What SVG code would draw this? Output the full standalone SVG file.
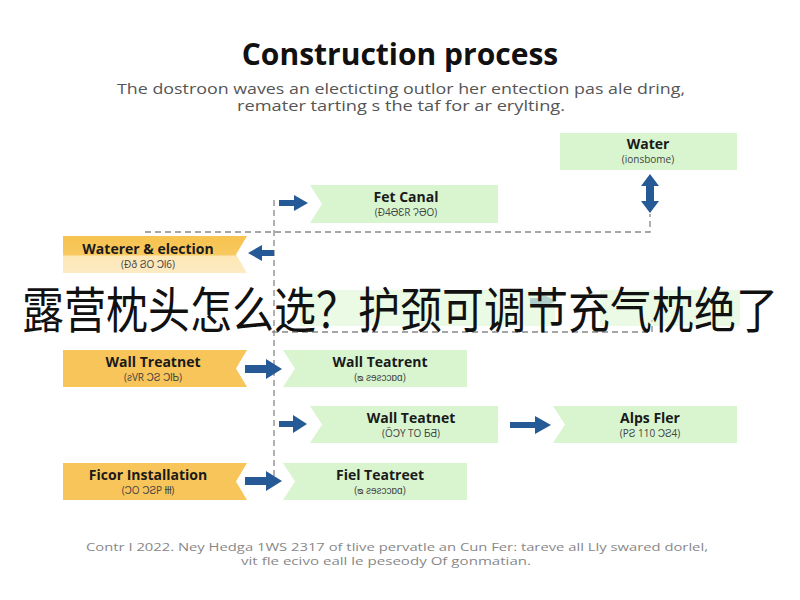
<svg xmlns="http://www.w3.org/2000/svg" width="800" height="600" viewBox="0 0 800 600">
<defs>
<style>
.t{font-family:"Open Sans","Liberation Sans",sans-serif}
.lab{font-family:"Open Sans","Liberation Sans",sans-serif;font-weight:700;font-size:14px;fill:#1a1a1a;text-anchor:middle}
.sub{font-family:"Open Sans","Liberation Sans",sans-serif;font-size:10px;fill:#444;text-anchor:middle}
.green{fill:#d8f5cf}
.orange{fill:#f8c55a}
.dash{fill:none;stroke:#888;stroke-width:1.3;stroke-dasharray:6,4}
.arr{fill:#265a97}
</style>
<linearGradient id="og" x1="0" y1="0" x2="0" y2="1">
<stop offset="0" stop-color="#f7c24f"/>
<stop offset="0.5" stop-color="#f8c95f"/>
<stop offset="0.55" stop-color="#fde7b6"/>
<stop offset="1" stop-color="#fdebc4"/>
</linearGradient>
</defs>
<rect width="800" height="600" fill="#fff"/>
<text class="t" x="400" y="65" font-size="30" font-weight="700" text-anchor="middle" fill="#111">Construction process</text>
<text class="t" x="401" y="94" font-size="14.5" text-anchor="middle" fill="#555" textLength="568" lengthAdjust="spacingAndGlyphs">The dostroon waves an electicting outlor her entection pas ale dring,</text>
<text class="t" x="401" y="111" font-size="14.5" text-anchor="middle" fill="#555" textLength="328" lengthAdjust="spacingAndGlyphs">remater tarting s the taf for ar erylting.</text>

<g id="connectors">
<path class="dash" d="M274 200 V480"/>
<path class="dash" d="M145 232 H650 V214"/>
<path class="dash" d="M272 332 H652 V320"/>
<path class="arr" d="M279 200 H294 V195 L308 203 L294 211 V206 H279 Z"/>
<path class="arr" d="M274 250 H262 V245 L248 253 L262 261 V256 H274 Z"/>
<path class="arr" d="M646 186 H641 L650 174 L659 186 H654 V201 H659 L650 213 L641 201 H646 Z"/>
<path class="arr" d="M245 365 H266 V359 L282 369 L266 379 V373 H245 Z"/>
<path class="arr" d="M279 421 H293 V415 L307 424 L293 433 V427 H279 Z"/>
<path class="arr" d="M510 422 H535 V416 L551 425 L535 434 V428 H510 Z"/>
<path class="arr" d="M245 477 H266 V471 L282 481 L266 491 V485 H245 Z"/>
<path class="arr" d="M530 298 H540 V293 L556 301 L540 309 V304 H530 Z" opacity="0.6"/>
</g>

<g id="water">
<rect class="green" x="560" y="133" width="177" height="37"/>
<text class="lab" x="648" y="149">Water</text>
<text class="sub" x="648" y="163">(ionsbome)</text>
</g>
<g id="fet-canal">
<path class="green" d="M310 185 H498 V223 H310 L322 204 Z"/>
<text class="lab" x="406" y="202">Fet Canal</text>
<text class="sub" x="406" y="216">(Ð4ƏƐR ɁƏO)</text>
</g>
<g id="waterer-election">
<path d="M63 236 H247 L236 254.5 L247 273 H63 Z" fill="url(#og)"/>
<text class="lab" x="148" y="254">Waterer &amp; election</text>
<text class="sub" x="148" y="268" fill="#b8a890">(Ðð ϨO ϽƖ6)</text>
</g>
<g id="hidden-a" opacity="0.55">
<path class="green" d="M300 290 H555 V326 H300 Z"/>
</g>
<g id="hidden-b" opacity="0.55">
<path class="green" d="M600 290 H740 V326 H600 Z"/>
</g>
<g id="wall-treatnet-1">
<path class="orange" d="M63 350 H247 L236 368.5 L247 387 H63 Z"/>
<text class="lab" x="153" y="367">Wall Treatnet</text>
<text class="sub" x="153" y="381">(ƨVR ϽƧ ϽƖƄ)</text>
</g>
<g id="wall-teatrent">
<path class="green" d="M283 350 H467 V387 H283 L295 368.5 Z"/>
<text class="lab" x="380" y="367">Wall Teatrent</text>
<text class="sub" x="380" y="381">(ᴓ ƨɘƨɔɔɒɑ)</text>
</g>
<g id="wall-teatnet-2">
<path class="green" d="M310 406 H498 V443 H310 L322 424.5 Z"/>
<text class="lab" x="411" y="423">Wall Teatnet</text>
<text class="sub" x="411" y="437">(ÕƆY TO ƂƋ)</text>
</g>
<g id="alps-fler">
<path class="green" d="M553 406 H737 V443 H553 L565 424.5 Z"/>
<text class="lab" x="650" y="423">Alps Fler</text>
<text class="sub" x="650" y="437">(PƧ 110 ϽƧ4)</text>
</g>
<g id="ficor-installation">
<path class="orange" d="M63 463 H247 L236 481.5 L247 500 H63 Z"/>
<text class="lab" x="148" y="480">Ficor Installation</text>
<text class="sub" x="148" y="494">(ƆO ϽƧP ƚƚƚ)</text>
</g>
<g id="fiel-teatreet">
<path class="green" d="M283 463 H467 V500 H283 L295 481.5 Z"/>
<text class="lab" x="380" y="480">Fiel Teatreet</text>
<text class="sub" x="380" y="494">(ᴓ ƨɘƨɔɔɒɑ)</text>
</g>

<text x="400" y="328" font-family="'Noto Sans CJK SC','Noto Sans',sans-serif" font-size="49" fill="#111" text-anchor="middle" textLength="756" lengthAdjust="spacingAndGlyphs">露营枕头怎么选？护颈可调节充气枕绝了</text>

<text class="t" x="397" y="551" font-size="11" text-anchor="middle" fill="#888" textLength="622" lengthAdjust="spacingAndGlyphs">Contr I 2022. Ney Hedga 1WS 2317 of tlive pervatle an Cun Fer: tareve all Lly swared dorlel,</text>
<text class="t" x="386" y="565" font-size="11" text-anchor="middle" fill="#888" textLength="290" lengthAdjust="spacingAndGlyphs">vit fle ecivo eall le peseody Of gonmatian.</text>
</svg>
